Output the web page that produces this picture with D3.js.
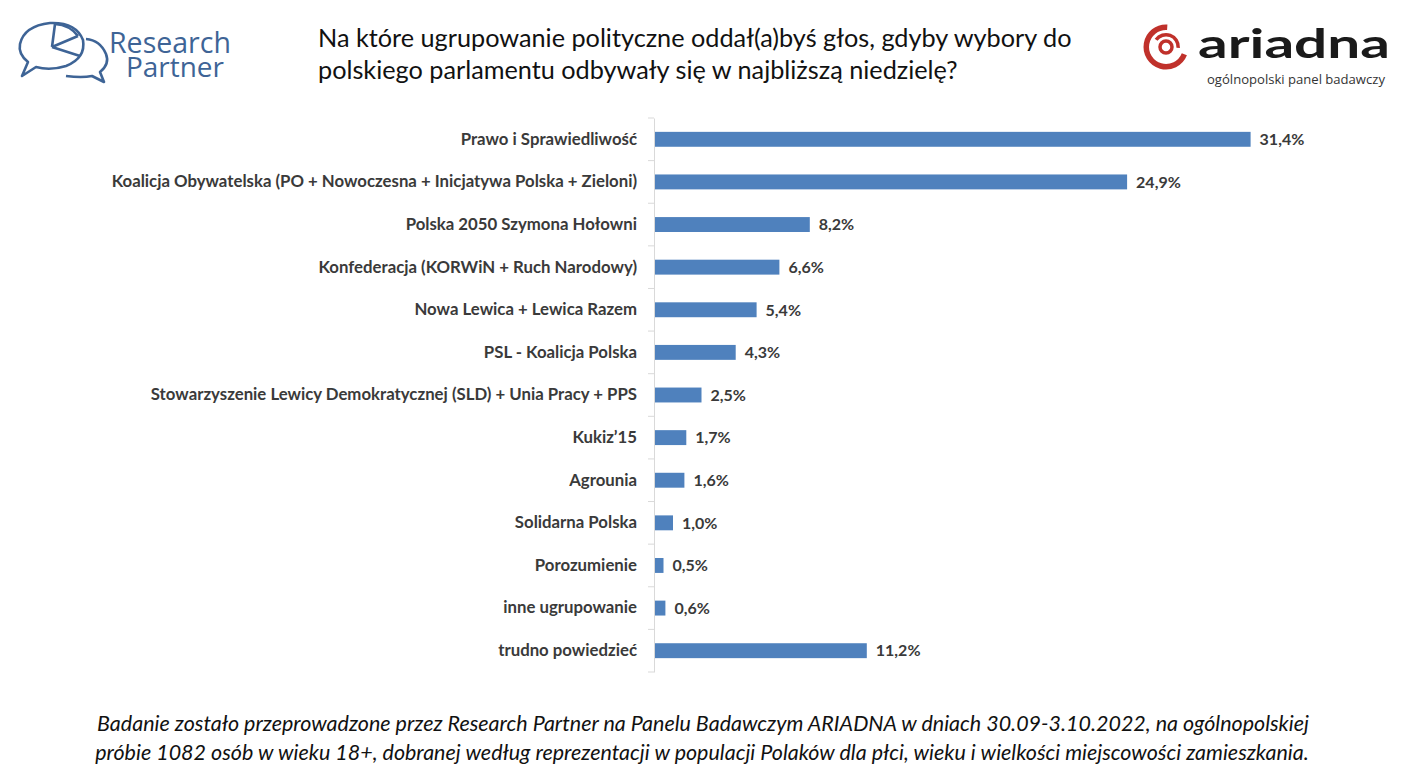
<!DOCTYPE html>
<html lang='pl'>
  <head>
    <meta charset='utf-8'>
    <title>Sondaż partyjny</title>
    <style>
      html, body { margin: 0; padding: 0; background: #ffffff; }
      svg { display: block; }
      .cat text { font-family: Lato, "Open Sans", sans-serif; font-weight: bold; fill: #3a3a3a; }
      .val { font-family: Lato, "Open Sans", sans-serif; font-weight: bold; fill: #3a3a3a; font-size: 16px; }
      .title { font-family: Lato, "Open Sans", sans-serif; fill: #111111; }
      .footer { font-family: Lato, "Open Sans", sans-serif; font-style: italic; fill: #111111; }
    </style>
  </head>
  <body>
    <div id="container"></div>

    <script src='https://cdnjs.cloudflare.com/ajax/libs/d3/7.8.5/d3.min.js'></script>
    <script>

      var categories = [
        "Prawo i Sprawiedliwość",
        "Koalicja Obywatelska (PO + Nowoczesna + Inicjatywa Polska + Zieloni)",
        "Polska 2050 Szymona Hołowni",
        "Konfederacja (KORWiN + Ruch Narodowy)",
        "Nowa Lewica + Lewica Razem",
        "PSL - Koalicja Polska",
        "Stowarzyszenie Lewicy Demokratycznej (SLD) + Unia Pracy + PPS",
        "Kukiz’15",
        "Agrounia",
        "Solidarna Polska",
        "Porozumienie",
        "inne ugrupowanie",
        "trudno powiedzieć"
      ];
      var values = [31.4, 24.9, 8.2, 6.6, 5.4, 4.3, 2.5, 1.7, 1.6, 1.0, 0.5, 0.6, 11.2];

      var titleLines = [
        "Na które ugrupowanie polityczne oddał(a)byś głos, gdyby wybory do",
        "polskiego parlamentu odbywały się w najbliższą niedzielę?"
      ];
      var footerLines = [
        "Badanie zostało przeprowadzone przez Research Partner na Panelu Badawczym ARIADNA w dniach 30.09-3.10.2022, na ogólnopolskiej",
        "próbie 1082 osób w wieku 18+, dobranej według reprezentacji w populacji Polaków dla płci, wieku i wielkości miejscowości zamieszkania."
      ];

      var w = 1406;
      var h = 781;
      var axisX = 654;
      var barColor = "#4f81bd";

      var svg = d3.select("#container").append("svg")
        .attr("width", w)
        .attr("height", h);

      // shrink/grow a text element's font size so it spans the given width
      function fitText(sel, target, size) {
        sel.style("font-size", size + "px");
        var len = sel.node().getComputedTextLength();
        var s = size * target / len;
        sel.style("font-size", s + "px");
        return s;
      }

      var xScale = d3.scaleLinear()
        .domain([0, 35])
        .range([axisX, axisX + 35 * 19]);

      var yScale = d3.scaleBand()
        .domain(categories)
        .range([118, 672])
        .paddingInner(0.65)
        .paddingOuter(0.325);

      // bars
      svg.selectAll("rect.bar")
        .data(values)
        .enter()
        .append("rect")
        .attr("class", "bar")
        .attr("x", xScale(0))
        .attr("y", function(d, i) { return yScale(categories[i]); })
        .attr("width", function(d) { return xScale(d) - xScale(0); })
        .attr("height", yScale.bandwidth())
        .attr("fill", barColor);

      // value labels
      svg.selectAll("text.val")
        .data(values)
        .enter()
        .append("text")
        .attr("class", "val")
        .attr("x", function(d) { return xScale(d) + 9; })
        .attr("y", function(d, i) { return yScale(categories[i]) + yScale.bandwidth() / 2; })
        .attr("dy", "0.36em")
        .text(function(d) { return d.toFixed(1).replace(".", ",") + "%"; });

      // category axis
      var yAxis = d3.axisLeft(yScale)
        .tickSize(0)
        .tickPadding(17);

      var gAxis = svg.append("g")
        .attr("class", "cat")
        .attr("transform", "translate(" + axisX + ",0)")
        .call(yAxis);

      gAxis.select(".domain").attr("stroke", "#d9d9d9");

      var longest = gAxis.selectAll(".tick text").filter(function(d) { return d === categories[1]; });
      var catSize = fitText(longest, 526, 14);
      gAxis.selectAll(".tick text").style("font-size", catSize + "px");

      // tick marks between categories
      var gap = (yScale.step() - yScale.bandwidth()) / 2;
      var bounds = categories.map(function(c) { return yScale(c) - gap; });
      bounds.push(yScale(categories[categories.length - 1]) + yScale.bandwidth() + gap);

      svg.selectAll("line.sep")
        .data(bounds)
        .enter()
        .append("line")
        .attr("class", "sep")
        .attr("x1", axisX - 6)
        .attr("x2", axisX)
        .attr("y1", function(d) { return d; })
        .attr("y2", function(d) { return d; })
        .attr("stroke", "#d9d9d9");

      // title
      var t1 = svg.append("text").attr("class", "title")
        .attr("x", 318).attr("y", 47).text(titleLines[0]);
      var tSize = fitText(t1, 754, 23);
      svg.append("text").attr("class", "title")
        .attr("x", 318).attr("y", 79)
        .style("font-size", tSize + "px")
        .text(titleLines[1]);

      // footer
      var f1 = svg.append("text").attr("class", "footer")
        .attr("x", 703).attr("y", 731)
        .attr("text-anchor", "middle")
        .text(footerLines[0]);
      var fSize = fitText(f1, 1213, 20);
      svg.append("text").attr("class", "footer")
        .attr("x", 702).attr("y", 760)
        .attr("text-anchor", "middle")
        .style("font-size", fSize + "px")
        .text(footerLines[1]);

      // Research Partner logo
      var rp = "#3e6496";
      var logo = svg.append("g")
        .attr("fill", "none")
        .attr("stroke", rp)
        .attr("stroke-width", 2.6)
        .attr("stroke-linejoin", "round");

      logo.append("path")
        .attr("d", "M 66 76 Q 82 78 92 76 L 104 82 L 100 72 Q 110 64 106 54 Q 100 40 86 39");
      logo.append("path")
        .attr("d", "M 28 62 Q 18 54 20 44 Q 24 26 50 23 Q 76 22 83 40 Q 86 58 66 66 Q 50 71 36 67 L 22 76 L 28 62 Z");
      logo.append("path")
        .attr("d", "M 52 47 L 55 24 M 52 47 L 80 56 M 52 47 L 78 36 M 55 24 Q 70 25 78 36");

      svg.append("text")
        .attr("x", 109).attr("y", 53)
        .attr("fill", rp)
        .style("font-family", "'Open Sans', sans-serif")
        .text("Research")
        .call(function(s) { fitText(s, 122, 26); });
      svg.append("text")
        .attr("x", 126).attr("y", 77)
        .attr("fill", rp)
        .style("font-family", "'Open Sans', sans-serif")
        .text("Partner")
        .call(function(s) { fitText(s, 98, 26); });

      // ARIADNA logo
      var red = "#c0312b";
      var arc = d3.arc();
      var mark = svg.append("g").attr("transform", "translate(1166,47)").attr("fill", red);
      mark.append("path").attr("d", arc({ innerRadius: 17, outerRadius: 22.5, startAngle: 0.62 * Math.PI, endAngle: 2.02 * Math.PI }));
      mark.append("path").attr("d", arc({ innerRadius: 10.5, outerRadius: 14, startAngle: -0.3 * Math.PI, endAngle: 0.52 * Math.PI }));
      mark.append("circle").attr("r", 6).attr("fill", "none").attr("stroke", red).attr("stroke-width", 3.5);

      svg.append("text")
        .attr("x", 1198).attr("y", 58)
        .attr("fill", "#1a1a1a")
        .style("font-family", "Lato, sans-serif")
        .style("font-weight", "bold")
        .style("font-size", "40px")
        .attr("textLength", 192)
        .attr("lengthAdjust", "spacingAndGlyphs")
        .text("ariadna");
      svg.append("text")
        .attr("x", 1207).attr("y", 84)
        .attr("fill", "#333333")
        .style("font-family", "'Open Sans', sans-serif")
        .text("ogólnopolski panel badawczy")
        .call(function(s) { fitText(s, 178, 13); });

    </script>
  </body>
</html>
